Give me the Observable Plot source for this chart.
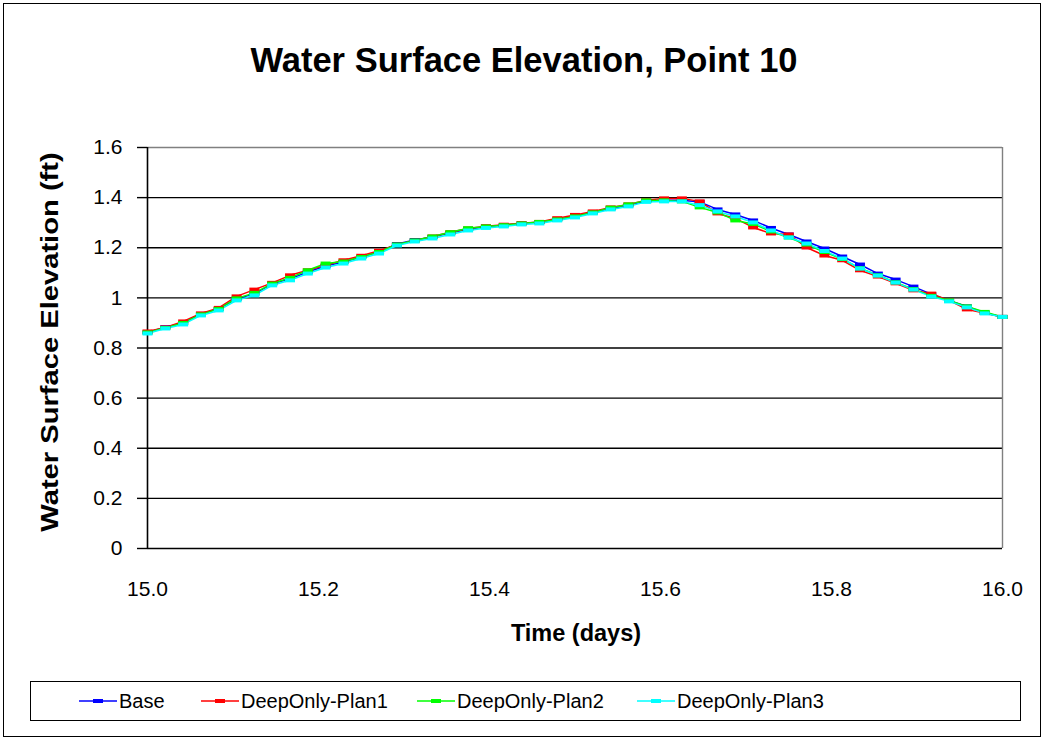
<!DOCTYPE html>
<html><head><meta charset="utf-8">
<script src="https://cdn.jsdelivr.net/npm/d3@7"></script>
<script src="https://cdn.jsdelivr.net/npm/@observablehq/plot@0.6"></script>
<style>
body{margin:0;background:#fff;font-family:"Liberation Sans",Arial,sans-serif;color:#000}
#wrap{position:relative;width:1045px;height:740px;overflow:hidden;background:#fff}
#frame{position:absolute;left:3px;top:3px;width:1038px;height:734px;border:1px solid #000;box-sizing:border-box}
.t{position:absolute;white-space:nowrap;transform:translate(-50%,-50%);font-weight:bold}
#title{left:524px;top:60px;font-size:34.5px}
#ylab{left:50px;top:342px;font-size:23.5px;transform:translate(-50%,-50%) rotate(-90deg) scaleX(1.24)}
#xlab{left:576px;top:633px;font-size:23.5px}
#plot{position:absolute;left:0;top:0}
#legend{position:absolute;left:30px;top:681px;width:991px;height:40px;border:1px solid #000;box-sizing:border-box}
.li{position:absolute;top:0;height:38px;display:flex;align-items:center;font-size:20px}
.li svg{margin-right:2px}
</style></head>
<body><div id="wrap">
<div id="frame"></div>
<div id="plot"></div>
<div class="t" id="title">Water Surface Elevation, Point 10</div>
<div class="t" id="ylab">Water Surface Elevation (ft)</div>
<div class="t" id="xlab">Time (days)</div>
<div id="legend"></div>
</div>
<script>
const seriesNames = ["Base", "DeepOnly-Plan1", "DeepOnly-Plan2", "DeepOnly-Plan3"];
const seriesColors = ["#0000FF", "#FF0000", "#00FF00", "#00FFFF"];
const times = [15.0000,15.0208,15.0417,15.0625,15.0833,15.1042,15.1250,15.1458,15.1667,15.1875,15.2083,15.2292,15.2500,15.2708,15.2917,15.3125,15.3333,15.3542,15.3750,15.3958,15.4167,15.4375,15.4583,15.4792,15.5000,15.5208,15.5417,15.5625,15.5833,15.6042,15.6250,15.6458,15.6667,15.6875,15.7083,15.7292,15.7500,15.7708,15.7917,15.8125,15.8333,15.8542,15.8750,15.8958,15.9167,15.9375,15.9583,15.9792,16.0000];
const base = [0.862,0.883,0.900,0.936,0.956,0.996,1.016,1.056,1.076,1.103,1.127,1.143,1.163,1.183,1.215,1.231,1.243,1.259,1.274,1.284,1.290,1.297,1.302,1.313,1.326,1.341,1.357,1.369,1.387,1.390,1.390,1.383,1.353,1.333,1.309,1.279,1.253,1.225,1.197,1.165,1.133,1.097,1.073,1.045,1.015,0.990,0.966,0.940,0.924];
const plan1 = [0.866,0.882,0.906,0.938,0.960,1.006,1.033,1.060,1.090,1.110,1.130,1.150,1.168,1.188,1.212,1.228,1.245,1.262,1.277,1.286,1.292,1.298,1.303,1.318,1.331,1.345,1.361,1.373,1.390,1.397,1.397,1.385,1.337,1.317,1.281,1.257,1.253,1.201,1.169,1.150,1.110,1.085,1.058,1.030,1.017,0.990,0.954,0.940,0.924];
const plan2 = [0.862,0.880,0.900,0.934,0.956,0.998,1.020,1.057,1.080,1.110,1.137,1.145,1.163,1.183,1.213,1.229,1.245,1.262,1.278,1.285,1.290,1.297,1.303,1.313,1.325,1.341,1.360,1.373,1.389,1.389,1.385,1.361,1.341,1.309,1.295,1.265,1.241,1.213,1.183,1.155,1.118,1.090,1.062,1.035,1.008,0.990,0.966,0.944,0.924];
const plan3 = [0.858,0.878,0.894,0.930,0.950,0.990,1.010,1.050,1.070,1.097,1.121,1.137,1.157,1.177,1.209,1.225,1.237,1.253,1.269,1.279,1.285,1.293,1.297,1.309,1.321,1.337,1.353,1.365,1.383,1.385,1.385,1.370,1.345,1.325,1.301,1.269,1.241,1.217,1.187,1.157,1.117,1.089,1.061,1.033,1.005,0.986,0.962,0.938,0.924];
const xTicks = [15.0, 15.2, 15.4, 15.6, 15.8, 16.0];
const yTicks = [0, 0.2, 0.4, 0.6, 0.8, 1, 1.2, 1.4, 1.6];
const gridLines = [0.2, 0.4, 0.6, 0.8, 1, 1.2, 1.4];

const allValues = [base, plan1, plan2, plan3];
const data = [];
seriesNames.forEach((name, k) => allValues[k].forEach((v, i) => data.push({series: name, t: times[i], v})));

const dash = {draw(ctx, size) { ctx.rect(-5, -2, 10, 4); }};

const chart = Plot.plot({
  width: 1045, height: 600,
  marginLeft: 147, marginRight: 43, marginTop: 147, marginBottom: 52,
  style: {fontFamily: "'Liberation Sans', Arial, sans-serif", fontSize: "21px", color: "#000", background: "transparent"},
  x: {domain: [15, 16], label: null},
  y: {domain: [0, 1.6], label: null},
  color: {domain: seriesNames, range: seriesColors},
  marks: [
    Plot.ruleY(gridLines, {stroke: "#000", strokeWidth: 1.4}),
    Plot.ruleY([1.6], {stroke: "#808080", strokeWidth: 1.4}),
    Plot.ruleX([16], {stroke: "#808080", strokeWidth: 1.4}),
    Plot.axisY({ticks: yTicks, tickFormat: d3.format("~g"), tickSize: 10, tickPadding: 15, strokeWidth: 1.4}),
    Plot.axisX({ticks: xTicks, tickFormat: d3.format(".1f"), tickSize: 0, tickPadding: 33}),
    Plot.ruleX([15], {stroke: "#000", strokeWidth: 1.6}),
    Plot.ruleY([0], {stroke: "#000", strokeWidth: 1.6}),
    Plot.line(data, {x: "t", y: "v", z: "series", stroke: "series", strokeWidth: 1.5}),
    Plot.dot(data, {x: "t", y: "v", fill: "series", symbol: dash, r: 3, stroke: "none"})
  ]
});
document.getElementById("plot").appendChild(chart);

// legend
const legendLeft = [48, 170, 386, 606];
const legend = document.getElementById("legend");
seriesNames.forEach((name, k) => {
  const item = document.createElement("div");
  item.className = "li";
  item.style.left = legendLeft[k] + "px";
  const c = seriesColors[k];
  item.innerHTML = `<svg width="38" height="10"><line x1="0" y1="5" x2="38" y2="5" stroke="${c}" stroke-width="1.5"/><rect x="14" y="3" width="10" height="4" fill="${c}"/></svg><span>${name}</span>`;
  legend.appendChild(item);
});
</script>
</body></html>
